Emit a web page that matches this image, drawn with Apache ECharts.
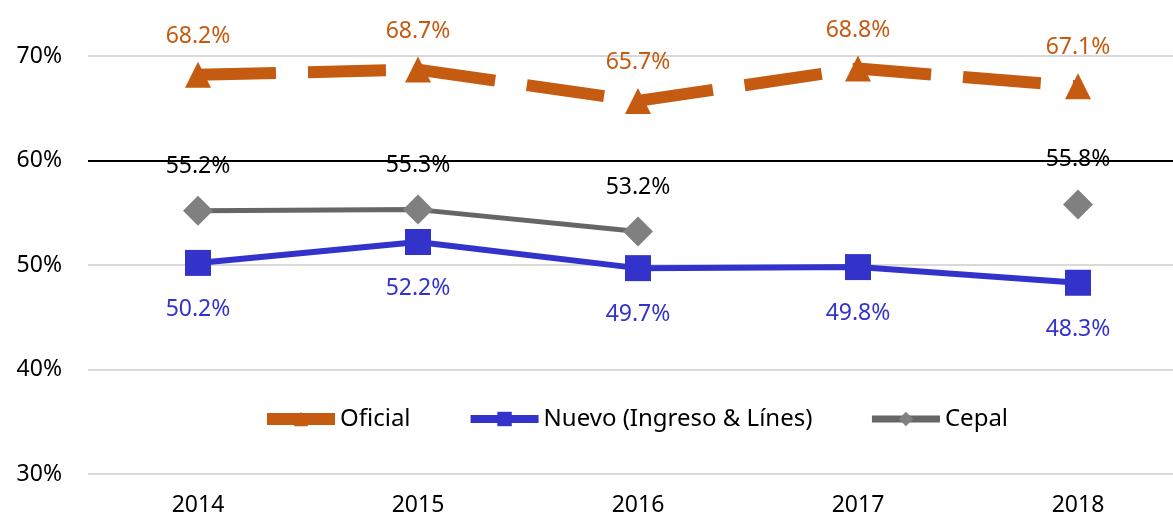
<!DOCTYPE html>
<html lang="es">
<head>
  <meta charset="UTF-8">
  <title>Pobreza</title>
  <script src="https://cdn.jsdelivr.net/npm/echarts@6/dist/echarts.min.js"></script>
  <style>
    html, body { margin: 0; padding: 0; background: #fff; }
    #main { width: 1173px; height: 520px; }
  </style>
</head>
<body>
  <div id="main"></div>
<script>
  const years = ['2014', '2015', '2016', '2017', '2018'];
  const oficial = [68.2, 68.7, 65.7, 68.8, 67.1];
  const nuevo = [50.2, 52.2, 49.7, 49.8, 48.3];
  const cepal = [55.2, 55.3, 53.2, null, 55.8];

  const font = 'Noto Sans';
  const pct = p => p.value.toFixed(1) + '%';

  let myChart = echarts.init(document.getElementById('main'));
  let option = {
    animation: false,
    grid: { left: 88, width: 1100, top: 56, bottom: 46, outerBoundsMode: 'none' },
    legend: {
      left: 256,
      top: 402,
      itemWidth: 68,
      itemHeight: 18,
      itemGap: 56,
      textStyle: { fontFamily: font, fontSize: 24, color: '#000' },
      data: [
        { name: 'Oficial', lineStyle: { width: 12 } },
        { name: 'Nuevo (Ingreso & Línes)', lineStyle: { width: 8 } },
        { name: 'Cepal', lineStyle: { width: 7 } }
      ]
    },
    xAxis: {
      type: 'category',
      data: years,
      axisLine: { show: false },
      axisTick: { show: false },
      axisLabel: { fontFamily: font, fontSize: 23, color: '#000', margin: 20 }
    },
    yAxis: {
      type: 'value',
      min: 30,
      max: 70,
      interval: 10,
      axisLabel: {
        fontFamily: font, fontSize: 23, color: '#000', margin: 26,
        formatter: v => v + '%'
      },
      splitLine: {
        lineStyle: {
          width: 2,
          // 60% line is drawn black in the original
          color: ['#d9d9d9', '#d9d9d9', '#d9d9d9', '#000000', '#d9d9d9']
        }
      }
    },
    series: [
      {
        name: 'Oficial',
        type: 'line',
        data: oficial,
        symbol: 'triangle',
        symbolSize: 26,
        itemStyle: { color: '#C55A11' },
        lineStyle: { width: 12, color: '#C55A11', type: [78, 32] },
        label: {
          show: true, position: 'top', distance: 14,
          fontFamily: font, fontSize: 23, color: '#C55A11', formatter: pct
        },
        z: 3
      },
      {
        name: 'Nuevo (Ingreso & Línes)',
        type: 'line',
        data: nuevo,
        symbol: 'rect',
        symbolSize: 26,
        itemStyle: { color: '#3333CC' },
        lineStyle: { width: 6, color: '#3333CC' },
        label: {
          show: true, position: 'bottom', distance: 22,
          fontFamily: font, fontSize: 23, color: '#3333CC', formatter: pct
        },
        z: 2
      },
      {
        name: 'Cepal',
        type: 'line',
        data: cepal,
        connectNulls: false,
        symbol: 'diamond',
        symbolSize: 30,
        itemStyle: { color: '#808080' },
        lineStyle: { width: 5, color: '#666666' },
        label: {
          show: true, position: 'top', distance: 18,
          fontFamily: font, fontSize: 23, color: '#000', formatter: pct
        },
        z: 2
      }
    ]
  };
  myChart.setOption(option);
</script>
</body>
</html>
